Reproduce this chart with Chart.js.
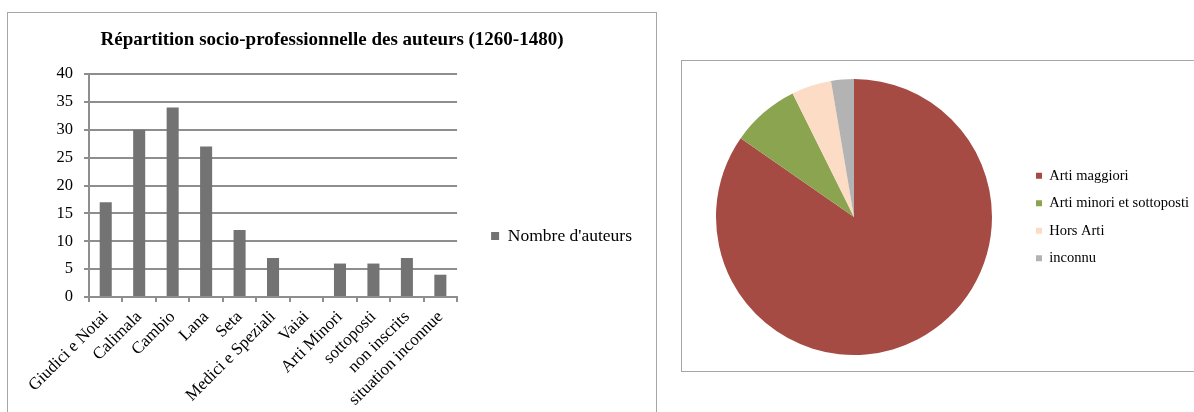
<!DOCTYPE html>
<html>
<head>
<meta charset="utf-8">
<script src="https://cdn.jsdelivr.net/npm/chart.js@4/dist/chart.umd.min.js"></script>
<style>
  html, body { margin: 0; padding: 0; background: #fff; overflow: hidden; }
  body { width: 1194px; height: 412px; position: relative; }
  .frame { position: absolute; border: 1px solid #a6a6a6; box-sizing: border-box; }
  .holder { position: absolute; }
</style>
</head>
<body>
<div class="frame" style="left:7px; top:12px; width:650px; height:470px;"></div>
<div class="holder" style="left:8px; top:13px; width:647px; height:460px;"><canvas id="bars"></canvas></div>
<div class="frame" style="left:681px; top:60px; width:540px; height:312px;"></div>
<div class="holder" style="left:682px; top:61px; width:530px; height:309px;"><canvas id="pie"></canvas></div>
<script>
const categories = ['Giudici e Notai', 'Calimala', 'Cambio', 'Lana', 'Seta', 'Medici e Speziali',
  'Vaiai', 'Arti Minori', 'sottoposti', 'non inscrits', 'situation inconnue']
const authorCounts = [17, 30, 34, 27, 12, 7, 0, 6, 6, 7, 4]
const seriesLabel = "Nombre d'auteurs"
const chartTitle = 'Répartition socio-professionnelle des auteurs (1260-1480)'

const groups = ['Arti maggiori', 'Arti minori et sottoposti', 'Hors Arti', 'inconnu']
const groupCounts = [127, 12, 7, 4]
const groupColors = ['#a64a44', '#8ba44f', '#fcdcc4', '#b3b3b3']

Chart.defaults.font.family = "'Liberation Serif', 'Times New Roman', serif"
Chart.defaults.color = '#000'
Chart.defaults.animation = false

const gridColor = '#8e8e8e'

new Chart(document.getElementById('bars'), {
  type: 'bar',
  data: {
    labels: categories,
    datasets: [{
      label: seriesLabel,
      data: authorCounts,
      backgroundColor: '#737373',
      barPercentage: 0.36,
      categoryPercentage: 1
    }]
  },
  options: {
    responsive: true,
    maintainAspectRatio: false,
    layout: { padding: { top: 0, right: 13, bottom: 14, left: 14 } },
    plugins: {
      title: {
        display: true,
        text: chartTitle,
        font: { size: 19, weight: 'bold' },
        padding: { top: 16, bottom: 22.2 }
      },
      legend: {
        position: 'right',
        maxWidth: 260,
        labels: { boxWidth: 8, boxHeight: 8, padding: 34, font: { size: 17.5 } }
      },
      tooltip: { enabled: false }
    },
    scales: {
      x: {
        afterFit: scale => { scale.height = 162 },
        grid: { drawOnChartArea: false, color: gridColor, lineWidth: 2, tickLength: 5 },
        border: { color: gridColor, width: 2 },
        ticks: { minRotation: 45, maxRotation: 45, autoSkip: false, padding: 5, font: { size: 17 } }
      },
      y: {
        min: 0,
        max: 40,
        afterFit: scale => { scale.width = 67 },
        grid: { color: gridColor, lineWidth: 2, tickLength: 5 },
        border: { color: gridColor, width: 2 },
        ticks: { stepSize: 5, padding: 11, font: { size: 16.5 } }
      }
    }
  }
})

new Chart(document.getElementById('pie'), {
  type: 'pie',
  data: {
    labels: groups,
    datasets: [{ data: groupCounts, backgroundColor: groupColors, borderWidth: 0 }]
  },
  options: {
    responsive: true,
    maintainAspectRatio: false,
    layout: { padding: { top: 18, right: 13, bottom: 15, left: 3 } },
    plugins: {
      legend: {
        position: 'right',
        labels: { boxWidth: 6, boxHeight: 6, padding: 13, font: { size: 14.5 } }
      },
      tooltip: { enabled: false }
    }
  }
})
</script>
</body>
</html>
